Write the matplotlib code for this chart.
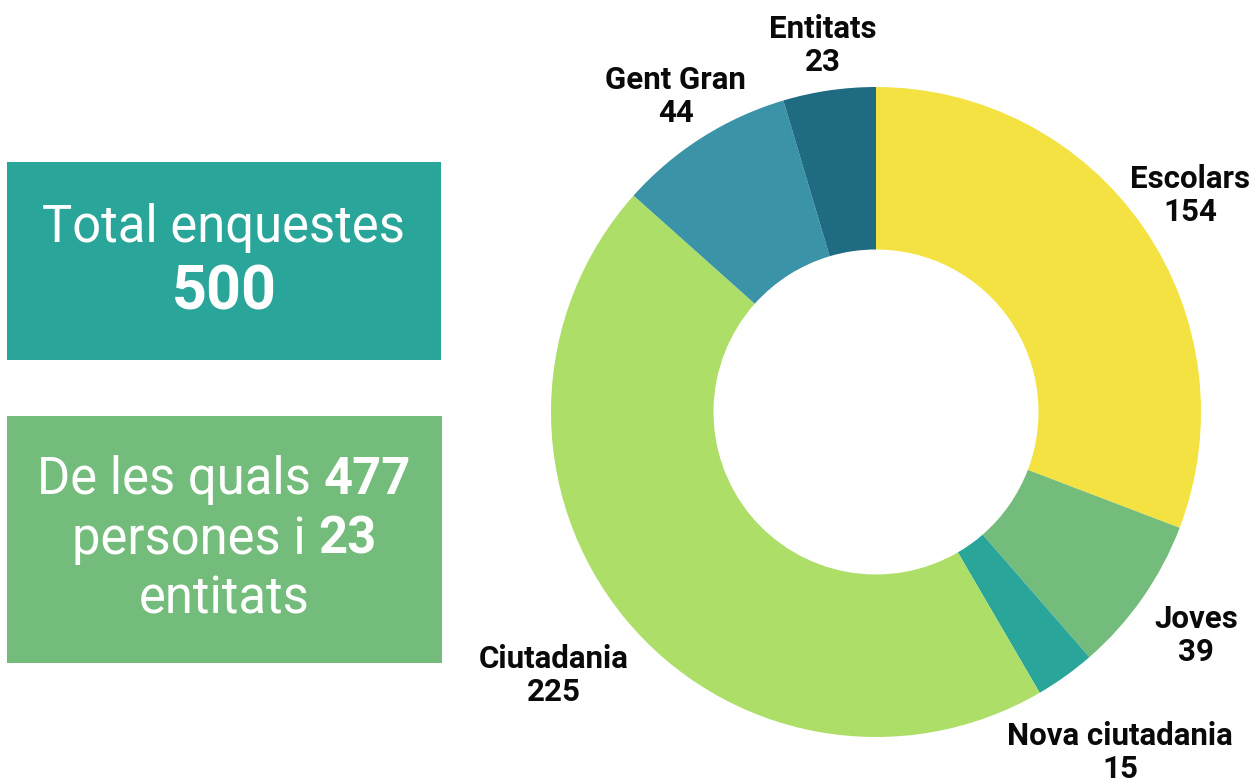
import matplotlib.pyplot as plt
import numpy as np

# data
categories = ['Escolars', 'Joves', 'Nova ciutadania', 'Ciutadania', 'Gent Gran', 'Entitats']
values = [154, 39, 15, 225, 44, 23]
colors = ['#F4E242', '#74BC7B', '#2AA59A', '#ADDE68', '#3A93A6', '#1F6B82']
total_enquestes = 500
persones = 477
entitats = 23

plt.rcParams['font.family'] = ['Roboto', 'DejaVu Sans']

W, H = 1254, 782
fig = plt.figure(figsize=(W / 100, H / 100), dpi=100)

# donut
cx, cy, R = 876, 412, 325
ax = fig.add_axes([(cx - R) / W, (H - cy - R) / H, 2 * R / W, 2 * R / H])
wedges, _ = ax.pie(values, colors=colors, startangle=90, counterclock=False,
                   radius=1, wedgeprops=dict(width=0.5, linewidth=0))
ax.set_xlim(-1, 1)
ax.set_ylim(-1, 1)
ax.set_aspect('equal')
ax.axis('off')

# label distance from center (in radii)
label_dist = [1.175, 1.2, 1.29, 1.28, 1.15, 1.14]
for w, name, v, d in zip(wedges, categories, values, label_dist):
    ang = np.deg2rad((w.theta1 + w.theta2) / 2)
    ax.text(d * np.cos(ang), d * np.sin(ang), f'{name}\n{v}', ha='center', va='center',
            fontsize=22.5, fontweight='bold', color='#0a0a0a', linespacing=1.12,
            clip_on=False)

# boxes
bax = fig.add_axes([0, 0, 1, 1])
bax.set_xlim(0, W)
bax.set_ylim(H, 0)
bax.axis('off')
bax.add_patch(plt.Rectangle((7, 162), 434, 198, color='#2AA59A', lw=0))
bax.add_patch(plt.Rectangle((7, 416), 435, 247, color='#74BC7B', lw=0))

fig.canvas.draw()
renderer = fig.canvas.get_renderer()


def mixed_line(y, parts, fs=36.5):
    # parts: list of (text, bold)
    objs = []
    for txt, bold in parts:
        t = bax.text(0, y, txt, fontsize=fs, color='white', va='center', ha='left',
                     fontweight='bold' if bold else 'normal')
        objs.append(t)
    widths = [t.get_window_extent(renderer).width for t in objs]
    x = 224 - sum(widths) / 2
    for t, wdt in zip(objs, widths):
        t.set_x(x)
        x += wdt


mixed_line(228, [('Total enquestes', False)])
mixed_line(292, [(str(total_enquestes), True)], fs=44)
mixed_line(480, [('De les quals ', False), (str(persones), True)])
mixed_line(540, [('persones i ', False), (str(entitats), True)])
mixed_line(600, [('entitats', False)])

fig.savefig('out.png', dpi=100)
